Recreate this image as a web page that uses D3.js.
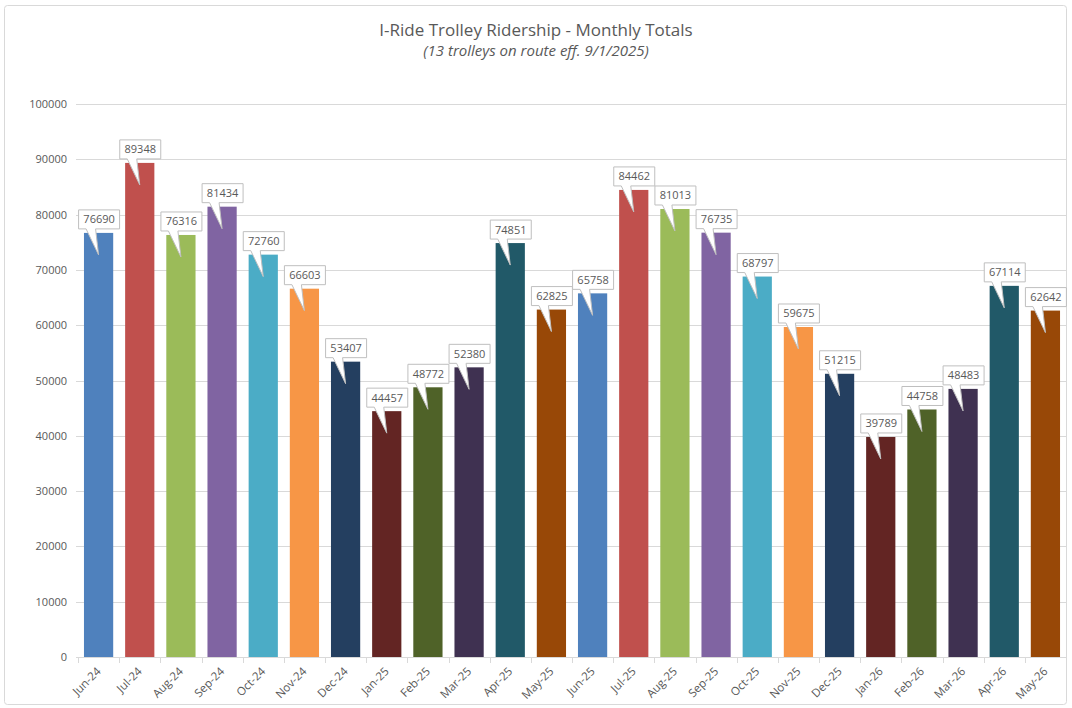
<!DOCTYPE html>
<html><head><meta charset="utf-8">
<script src="https://cdn.jsdelivr.net/npm/d3@7"></script>
<style>body{margin:0;background:#fff;} svg{display:block;font-family:"Open Sans",sans-serif;}</style>
</head><body><svg id="c" width="1072" height="708"></svg>
<script>
const months = ["Jun-24","Jul-24","Aug-24","Sep-24","Oct-24","Nov-24","Dec-24","Jan-25","Feb-25","Mar-25","Apr-25","May-25","Jun-25","Jul-25","Aug-25","Sep-25","Oct-25","Nov-25","Dec-25","Jan-26","Feb-26","Mar-26","Apr-26","May-26"];
const riders = [76690,89348,76316,81434,72760,66603,53407,44457,48772,52380,74851,62825,65758,84462,81013,76735,68797,59675,51215,39789,44758,48483,67114,62642];
const palette = ["#4F81BD","#C0504D","#9BBB59","#8064A2","#4BACC6","#F79646","#243F60","#632523","#4F6228","#3F3151","#215968","#984807"];
const yTicks = [0,10000,20000,30000,40000,50000,60000,70000,80000,90000,100000];
const title = "I-Ride Trolley Ridership - Monthly Totals";
const subtitle = "(13 trolleys on route eff. 9/1/2025)";

const svg = d3.select("#c");
svg.append("rect").attr("x",4.5).attr("y",5.5).attr("width",1062).attr("height",699).attr("rx",3)
  .attr("fill","#fff").attr("stroke","#d9d9d9");

const x = d3.scaleBand().domain(months).range([78,1066]).paddingInner(0.29).paddingOuter(0.145);
const y = d3.scaleLinear().domain([0,100000]).range([657,104]);

svg.append("text").attr("x",536).attr("y",36).attr("text-anchor","middle").attr("font-size",17).attr("fill","#595959").text(title);
svg.append("text").attr("x",536).attr("y",56).attr("text-anchor","middle").attr("font-size",15).attr("font-style","italic").attr("fill","#595959").text(subtitle);

// grid
svg.append("g").selectAll("line").data(yTicks.slice(1)).join("line")
  .attr("x1",76).attr("x2",1066).attr("y1",d=>Math.round(y(d))+0.5).attr("y2",d=>Math.round(y(d))+0.5)
  .attr("stroke","#d9d9d9");
svg.append("g").selectAll("text").data(yTicks).join("text")
  .attr("x",67).attr("y",d=>y(d)+4).attr("text-anchor","end").attr("font-size",11).attr("fill","#595959")
  .text(d=>d);

// bars
svg.append("g").selectAll("rect").data(riders).join("rect")
  .attr("x",(d,i)=>x(months[i])).attr("width",x.bandwidth())
  .attr("y",d=>y(d)).attr("height",d=>y(0)-y(d))
  .attr("fill",(d,i)=>palette[i%12]);

// x axis
const step = x.step();
const ax = svg.append("g");
ax.append("line").attr("x1",76).attr("x2",1066).attr("y1",657.5).attr("y2",657.5).attr("stroke","#d9d9d9");
const tickXs = months.map(m=>x(m)-(step-x.bandwidth())/2).concat([x(months[months.length-1])+x.bandwidth()+(step-x.bandwidth())/2]);
ax.selectAll("line.t").data(tickXs).join("line").attr("class","t")
  .attr("x1",d=>Math.round(d)+0.5).attr("x2",d=>Math.round(d)+0.5).attr("y1",657).attr("y2",663).attr("stroke","#d9d9d9");
ax.selectAll("text").data(months).join("text")
  .attr("transform",d=>`translate(${x(d)+x.bandwidth()/2+3},${672}) rotate(-45)`)
  .attr("text-anchor","end").attr("font-size",11.5).attr("fill","#595959").text(d=>d);

// callouts
const lab = svg.append("g");
riders.forEach((v,i)=>{
  const cx = x(months[i])+x.bandwidth()/2;
  const top = y(v);
  const w = 41, h = 19;
  const bx = cx - w/2 + 0.5, by = top - 4 - h;
  const g = lab.append("g");
  const tipX = cx, tipY = top + 22;
  const a = cx - 12.5, b = cx - 3;
  g.append("path").attr("d",`M${bx},${by} H${bx+w} V${by+h} H${b} L${tipX},${tipY} L${a},${by+h} H${bx} Z`)
    .attr("fill","#fff").attr("stroke","#bfbfbf").attr("stroke-width",1);
  g.append("text").attr("x",bx+w/2).attr("y",by+h/2+4).attr("text-anchor","middle")
    .attr("font-size",11).attr("fill","#595959").text(v);
});
</script></body></html>
